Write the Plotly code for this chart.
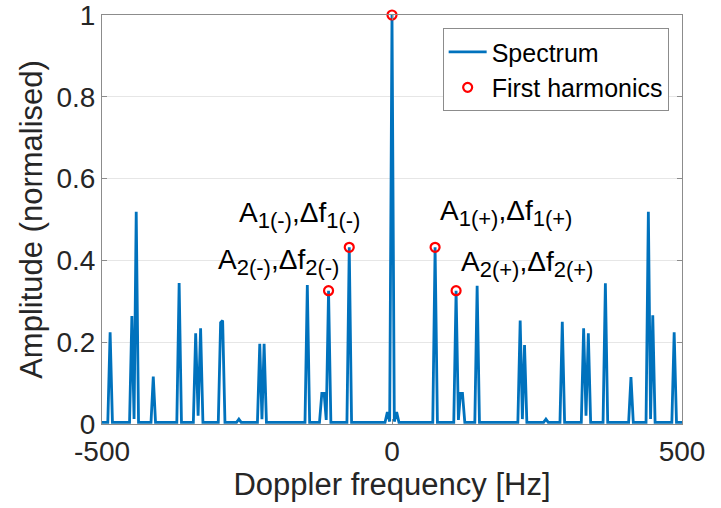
import plotly.graph_objects as go

# Spectrum samples (Doppler frequency in Hz, normalised amplitude)
spectrum_freq = [-500, -490, -486, -482,
                 -452.5, -448.5, -444.7, -441, -437,
                 -415.5, -411.6, -407.7,
                 -371, -367, -363,
                 -342.5, -338.5, -334.3, -330, -326,
                 -299.5, -295.5, -292, -288,
                 -268, -264, -260,
                 -232, -228, -224.2, -220.5, -216.5,
                 -150, -146, -142,
                 -125, -121, -117, -113.4, -109.4, -105.4,
                 -77.7, -73.7, -69.7,
                 -12, -8, -4, 0, 4, 8, 12,
                 70.3, 74.3, 78.3,
                 106.5, 110.5, 114.5, 118, 121.5, 125.5,
                 142.8, 146.8, 150.8,
                 217, 221, 224.8, 228.5, 232.5,
                 261.4, 265.4, 269.4,
                 289.6, 293.6, 297.6,
                 326.4, 330.4, 334.5, 338.5, 342.5,
                 363.9, 367.9, 371.9,
                 408, 412, 416,
                 438, 442, 445.8, 449.6, 453.6,
                 482.5, 486.5, 490.5, 500]
spectrum_amp = [0.004, 0.004, 0.224, 0.004,
                0.004, 0.264, 0.012, 0.519, 0.004,
                0.004, 0.116, 0.004,
                0.004, 0.345, 0.004,
                0.004, 0.222, 0.02, 0.234, 0.004,
                0.004, 0.248, 0.253, 0.004,
                0.004, 0.012, 0.004,
                0.004, 0.196, 0.012, 0.196, 0.004,
                0.004, 0.340, 0.004,
                0.004, 0.075, 0.075, 0.01, 0.326, 0.004,
                0.004, 0.432, 0.004,
                0.004, 0.029, 0.006, 1.0, 0.006, 0.029, 0.004,
                0.004, 0.432, 0.004,
                0.004, 0.326, 0.01, 0.075, 0.075, 0.004,
                0.004, 0.338, 0.004,
                0.004, 0.253, 0.012, 0.193, 0.004,
                0.004, 0.012, 0.004,
                0.004, 0.250, 0.004,
                0.004, 0.234, 0.02, 0.222, 0.004,
                0.004, 0.344, 0.004,
                0.004, 0.115, 0.004,
                0.004, 0.519, 0.012, 0.266, 0.004,
                0.004, 0.224, 0.004, 0.004]

# First harmonics (peaks marked with red circles)
harm_freq = [-109.4, -73.7, 0, 74.3, 110.5]
harm_amp = [0.326, 0.432, 1.0, 0.432, 0.326]

# Peak labels
SUB = '<sub><span style="font-size:22px">{}</span></sub>'
label_text = ["A" + SUB.format("1(-)") + ",Δf" + SUB.format("1(-)"),
              "A" + SUB.format("2(-)") + ",Δf" + SUB.format("2(-)"),
              "A" + SUB.format("1(+)") + ",Δf" + SUB.format("1(+)"),
              "A" + SUB.format("2(+)") + ",Δf" + SUB.format("2(+)")]
label_x = [-160, -196, 197, 232]
label_y = [0.512, 0.395, 0.516, 0.392]

x_ticks = [-500, 0, 500]
y_ticks = [0, 0.2, 0.4, 0.6, 0.8, 1]
y_tick_text = ["0", "0.2", "0.4", "0.6", "0.8", "1"]

FONT = "Liberation Sans, Arial, sans-serif"
TXT = "#262626"
AXC = "#8c8c8c"

fig = go.Figure()
fig.add_trace(go.Scatter(x=spectrum_freq, y=spectrum_amp, mode="lines",
                         name="Spectrum",
                         line=dict(color="#0072BD", width=2.8)))
fig.add_trace(go.Scatter(x=harm_freq, y=harm_amp, mode="markers",
                         name="First harmonics", cliponaxis=False,
                         marker=dict(symbol="circle-open", size=9, color="#FF0000",
                                     line=dict(width=2.2, color="#FF0000"))))

for t, x, y in zip(label_text, label_x, label_y):
    fig.add_annotation(x=x, y=y, xref="x", yref="y", text=t, showarrow=False,
                       xanchor="center", yanchor="middle",
                       font=dict(family=FONT, size=28, color="#000000"))

fig.update_xaxes(range=[-500, 500], tickvals=x_ticks, ticktext=[str(v) for v in x_ticks],
                 showgrid=False, zeroline=False, showline=True, linecolor=AXC, linewidth=1,
                 mirror="ticks", ticks="inside", ticklen=5, tickcolor=AXC, automargin=False,
                 ticklabelstandoff=2, ticklabeloverflow="allow",
                 tickfont=dict(family=FONT, size=28, color=TXT),
                 title=dict(text="Doppler frequency [Hz]", font=dict(family=FONT, size=31, color=TXT),
                            standoff=6))
fig.update_yaxes(range=[0, 1], tickvals=y_ticks, ticktext=y_tick_text,
                 showgrid=True, gridcolor="#e6e6e6", gridwidth=1, zeroline=False,
                 showline=True, linecolor=AXC, linewidth=1, automargin=False,
                 ticklabeloverflow="allow",
                 mirror="ticks", ticks="inside", ticklen=5, tickcolor=AXC,
                 tickfont=dict(family=FONT, size=28, color=TXT),
                 title=dict(text="Amplitude (normalised)", font=dict(family=FONT, size=31, color=TXT),
                            standoff=4))

fig.update_layout(width=721, height=508, autosize=False,
                  margin=dict(l=102, r=39, t=15, b=84),
                  plot_bgcolor="white", paper_bgcolor="white",
                  font=dict(family=FONT, color=TXT),
                  legend=dict(x=0.977, y=0.968, xanchor="right", yanchor="top",
                              bgcolor="white", bordercolor="#8c8c8c", borderwidth=1,
                              itemwidth=38,
                              font=dict(family=FONT, size=25, color="#000000")),
                  showlegend=True)

fig.write_html("out.html")
